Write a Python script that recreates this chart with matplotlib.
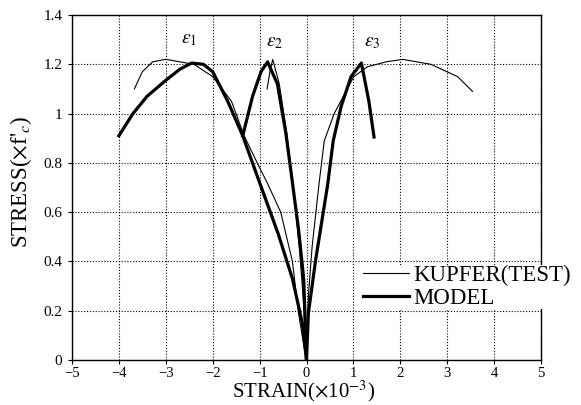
import matplotlib
matplotlib.use("Agg")
import matplotlib.pyplot as plt
from matplotlib.lines import Line2D

# ---- data (strain x1e-3, stress / f'c) ----
model_e1_x = [-4.0, -3.7, -3.4, -3.0, -2.7, -2.45, -2.2, -2.0, -1.68, -1.36, -1.0, -0.6, -0.30, -0.09, 0.0]
model_e1_y = [0.91, 1.00, 1.07, 1.135, 1.18, 1.205, 1.20, 1.17, 1.05, 0.91, 0.72, 0.51, 0.33, 0.15, 0.0]

kupfer_e1_x = [-3.67, -3.5, -3.28, -3.0, -2.7, -2.4, -2.0, -1.6, -1.33, -1.0, -0.84, -0.55, -0.30, -0.17, -0.05, 0.0]
kupfer_e1_y = [1.10, 1.17, 1.21, 1.22, 1.21, 1.20, 1.15, 1.05, 0.91, 0.78, 0.72, 0.60, 0.40, 0.19, 0.05, 0.0]

model_e2_x = [0.0, -0.06, -0.17, -0.30, -0.44, -0.62, -0.83, -0.97, -1.15, -1.36]
model_e2_y = [0.0, 0.33, 0.53, 0.72, 0.92, 1.12, 1.21, 1.17, 1.07, 0.91]

kupfer_e2_x = [0.0, -0.05, -0.15, -0.28, -0.42, -0.58, -0.72, -0.78, -0.84]
kupfer_e2_y = [0.0, 0.20, 0.45, 0.70, 0.92, 1.12, 1.22, 1.17, 1.10]

model_e3_x = [0.0, 0.04, 0.19, 0.45, 0.57, 0.74, 0.95, 1.17, 1.33, 1.44]
model_e3_y = [0.0, 0.19, 0.40, 0.71, 0.89, 1.03, 1.15, 1.205, 1.05, 0.905]

kupfer_e3_x = [0.0, 0.04, 0.12, 0.27, 0.38, 0.59, 1.01, 1.30, 1.70, 2.05, 2.65, 3.22, 3.54]
kupfer_e3_y = [0.0, 0.26, 0.46, 0.72, 0.89, 1.00, 1.15, 1.19, 1.21, 1.22, 1.20, 1.15, 1.09]

xticks = [-5, -4, -3, -2, -1, 0, 1, 2, 3, 4, 5]
yticks = [0, 0.2, 0.4, 0.6, 0.8, 1.0, 1.2, 1.4]
ytick_labels = ["0", "0.2", "0.4", "0.6", "0.8", "1", "1.2", "1.4"]
xtick_labels = ["\u22125", "\u22124", "\u22123", "\u22122", "\u22121", "0", "1", "2", "3", "4", "5"]

eps_labels = [r"$\varepsilon_1$", r"$\varepsilon_2$", r"$\varepsilon_3$"]
eps_x = [-2.5, -0.68, 1.4]
eps_y = [1.30, 1.29, 1.29]

legend_labels = ["KUPFER(TEST)", "MODEL"]

plt.rcParams['font.family'] = ['Liberation Serif', 'DejaVu Serif']
plt.rcParams['mathtext.fontset'] = 'stix'

fig = plt.figure(figsize=(5.81, 4.05), dpi=100)
ax = fig.add_axes([72 / 581, 45 / 405, 469 / 581, 345 / 405])

thin = dict(color='black', lw=0.8)
thick = dict(color='black', lw=2.3)

ax.plot(kupfer_e1_x, kupfer_e1_y, **thin)
ax.plot(kupfer_e2_x, kupfer_e2_y, **thin)
ax.plot(kupfer_e3_x, kupfer_e3_y, **thin)
ax.plot(model_e1_x, model_e1_y, **thick)
ax.plot(model_e2_x, model_e2_y, **thick)
ax.plot(model_e3_x, model_e3_y, **thick)

for lab, x, y in zip(eps_labels, eps_x, eps_y):
    ax.text(x, y, lab, fontsize=14, ha='center', va='center')

ax.set_xlim(-5, 5)
ax.set_ylim(0, 1.4)
ax.set_xticks(xticks)
ax.set_xticklabels(xtick_labels)
ax.set_yticks(yticks)
ax.set_yticklabels(ytick_labels)
ax.tick_params(labelsize=11, length=3, width=0.8, direction='out')
ax.tick_params(axis='x', labelsize=10.5, pad=2)
ax.tick_params(axis='y', pad=4)
ax.grid(True, linestyle=(0, (1, 1.6)), color='black', lw=0.8)
for s in ax.spines.values():
    s.set_linewidth(1.0)

fig.text(304 / 581, 1 / 405, r"STRAIN($\times$10$^{-3}$)", fontsize=15,
         ha='center', va='bottom')
fig.text(21 / 581, 1 - 182 / 405, r"STRESS($\times$f$'_c$)", fontsize=16.5,
         ha='center', va='center', rotation=90)

handles = [Line2D([], [], **thin), Line2D([], [], **thick)]
leg = ax.legend(handles, legend_labels, loc='center left',
                bbox_to_anchor=((363 - 72) / 469, (360 - 287) / 345), frameon=True, fontsize=16.5,
                handlelength=2.0, handletextpad=0.2, borderpad=0.0,
                labelspacing=0.05, borderaxespad=0)
leg.get_frame().set_edgecolor('none')
leg.get_frame().set_facecolor('white')
leg.get_frame().set_alpha(1.0)

fig.savefig("out.png", dpi=100)
